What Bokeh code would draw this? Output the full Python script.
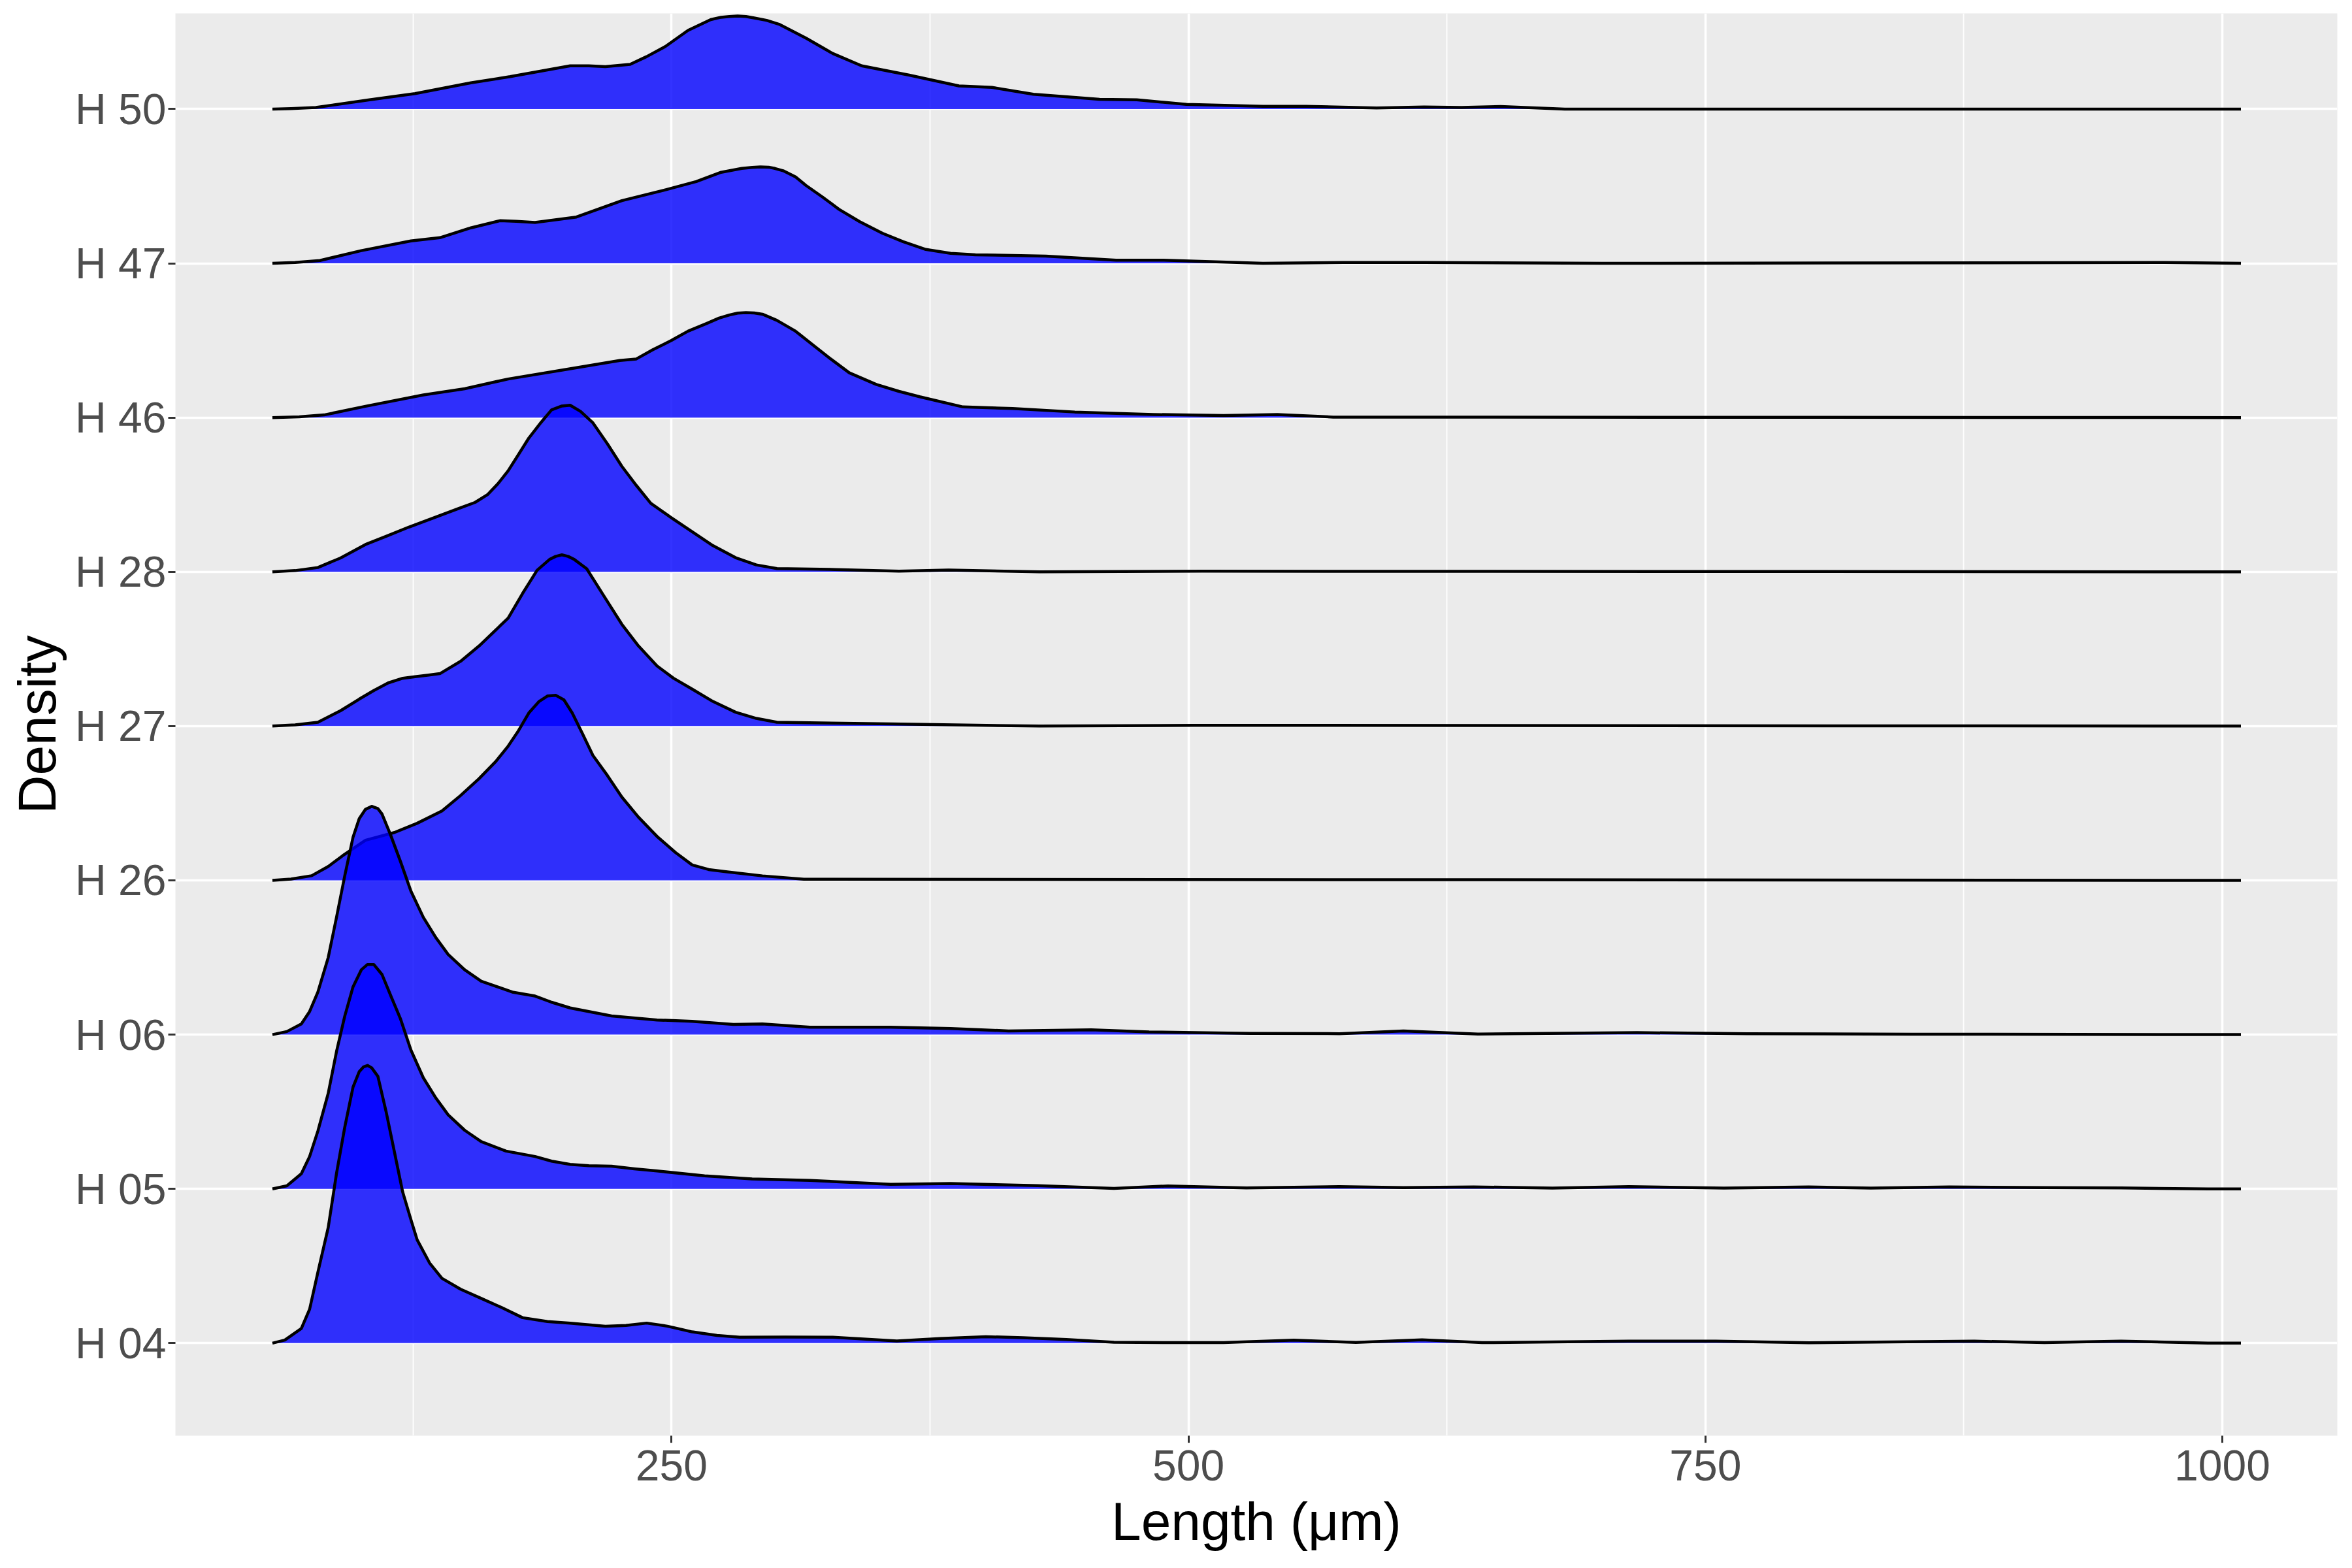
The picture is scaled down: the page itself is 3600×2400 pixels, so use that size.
from bokeh.plotting import figure
from bokeh.models import FixedTicker
from bokeh.embed import file_html
from bokeh.resources import INLINE

# rows of the ridgeline, bottom to top
categories = ["H 04", "H 05", "H 06", "H 26", "H 27", "H 28", "H 46", "H 47", "H 50"]
x_ticks = [250, 500, 750, 1000]
x_minor = [125, 375, 625, 875]

# density curves: length (um) and height (in row units)
x_h04 = [57, 63, 71, 75, 79, 84, 88, 92, 96, 99, 101, 103, 105, 108, 112, 116, 120, 124, 127, 133, 139,
         148, 158, 168, 178, 190, 201, 218, 228, 238, 248, 260, 272, 283, 305,
         328, 359, 380, 402, 420, 441, 464, 490, 517, 551, 581, 613, 642, 713, 755, 800, 880, 914, 951, 993, 1009]
d_h04 = [0, 0.02, 0.095, 0.22, 0.46, 0.75, 1.10, 1.40, 1.66, 1.76, 1.79, 1.80, 1.785, 1.73, 1.50, 1.24, 0.98, 0.80, 0.67, 0.52, 0.42,
         0.35, 0.29, 0.23, 0.165, 0.14, 0.13, 0.109, 0.115, 0.13, 0.11, 0.073, 0.05, 0.038, 0.04,
         0.038, 0.014, 0.03, 0.042, 0.035, 0.024, 0.006, 0.003, 0.003, 0.019, 0.005, 0.021, 0.003, 0.013, 0.013, 0.002, 0.013, 0.003, 0.013, 0, 0]

x_h05 = [57, 64, 71, 75, 79, 84, 88, 92, 96, 100, 103, 106, 110, 114, 119, 124, 130, 136, 142, 150, 158, 170, 184,
         192, 201, 210, 221, 232, 243, 266, 289, 317, 356, 385, 427, 464, 490, 528, 573, 604, 638, 676, 713, 759, 800,
         830, 868, 914, 951, 993, 1009]
d_h05 = [0, 0.02, 0.098, 0.21, 0.375, 0.62, 0.89, 1.12, 1.31, 1.42, 1.455, 1.455, 1.39, 1.26, 1.10, 0.90, 0.72, 0.59, 0.48, 0.38, 0.306, 0.245, 0.21,
         0.18, 0.159, 0.15, 0.147, 0.13, 0.116, 0.085, 0.064, 0.055, 0.029, 0.035, 0.021, 0.003, 0.019, 0.006, 0.015, 0.008, 0.013, 0.005, 0.015, 0.005, 0.013,
         0.005, 0.013, 0.008, 0.006, 0, 0]

x_h06 = [57, 64, 71, 75, 79, 84, 88, 92, 96, 99, 102, 105, 108, 110, 114, 119, 124, 130, 136, 142, 150, 158, 173, 184,
         192, 201, 221, 243, 260, 280, 294, 317, 356, 385, 413, 453, 481, 530, 573, 604, 640, 717, 770, 850, 1009]
d_h06 = [0, 0.02, 0.069, 0.15, 0.276, 0.50, 0.76, 1.03, 1.28, 1.40, 1.46, 1.48, 1.465, 1.43, 1.30, 1.12, 0.93, 0.76, 0.63, 0.52, 0.42, 0.346, 0.276, 0.25,
         0.21, 0.173, 0.121, 0.095, 0.086, 0.066, 0.069, 0.048, 0.048, 0.04, 0.024, 0.031, 0.017, 0.008, 0.006, 0.024, 0.004, 0.013, 0.006, 0.003, 0]

x_h26 = [57, 66, 76, 84, 91, 102, 116, 127, 139, 148, 157, 165, 171, 176, 181, 186, 190, 194, 198, 202, 207, 212,
         219, 226, 234, 243, 252, 260, 268, 277, 294, 314, 1009]
d_h26 = [0, 0.008, 0.03, 0.09, 0.16, 0.26, 0.31, 0.37, 0.45, 0.55, 0.66, 0.77, 0.87, 0.97, 1.085, 1.16, 1.195, 1.20, 1.17, 1.085, 0.95, 0.81,
         0.68, 0.54, 0.41, 0.285, 0.18, 0.10, 0.07, 0.055, 0.029, 0.007, 0]

x_h27 = [57, 68, 79, 90, 99, 106, 113, 120, 126, 132, 138, 148, 157, 164, 171, 178, 185, 191, 194, 197, 200, 203, 209, 217, 226, 234,
         243, 251, 260, 270, 281, 291, 301, 356, 428, 503, 1009]
d_h27 = [0, 0.008, 0.025, 0.10, 0.175, 0.23, 0.28, 0.31, 0.32, 0.33, 0.34, 0.42, 0.52, 0.61, 0.70, 0.86, 1.01, 1.08, 1.10, 1.11, 1.10, 1.08, 1.02, 0.85, 0.66, 0.52,
         0.39, 0.31, 0.24, 0.16, 0.09, 0.05, 0.025, 0.014, 0, 0.005, 0]

x_h28 = [57, 68, 79, 90, 102, 112, 123, 135, 147, 155, 161, 166, 171, 176, 181, 187, 192, 197, 201, 206, 212, 219, 226, 233,
         240, 250, 260, 270, 281, 291, 301, 329, 360, 384, 428, 507, 1009]
d_h28 = [0, 0.008, 0.028, 0.09, 0.177, 0.23, 0.29, 0.35, 0.41, 0.45, 0.50, 0.57, 0.655, 0.76, 0.867, 0.97, 1.05, 1.075, 1.08, 1.04, 0.966, 0.83, 0.684, 0.56,
         0.444, 0.35, 0.26, 0.17, 0.092, 0.045, 0.021, 0.015, 0.004, 0.012, 0, 0.004, 0]

x_h46 = [57, 70, 82, 102, 130, 150, 171, 198, 216, 225, 233, 241, 250, 258, 267, 273, 278, 282, 286, 290, 294, 301, 310, 318, 327, 336, 349,
         360, 370, 391, 415, 445, 483, 517, 543, 570, 1009]
d_h46 = [0, 0.005, 0.017, 0.073, 0.147, 0.187, 0.25, 0.31, 0.35, 0.37, 0.38, 0.44, 0.50, 0.56, 0.61, 0.645, 0.665, 0.677, 0.68, 0.678, 0.67, 0.63, 0.56, 0.475, 0.38, 0.29, 0.215,
         0.17, 0.135, 0.069, 0.059, 0.036, 0.02, 0.013, 0.02, 0.003, 0]

x_h47 = [57, 68, 80, 100, 124, 138, 153, 167, 175, 184, 204, 226, 247, 262, 274, 284, 289, 293, 297, 300, 304, 310, 315, 323,
         331, 341, 352, 362, 373, 385, 397, 431, 465, 488, 536, 575, 614, 700, 972, 1009]
d_h47 = [0, 0.005, 0.018, 0.082, 0.145, 0.166, 0.23, 0.276, 0.272, 0.265, 0.30, 0.406, 0.476, 0.53, 0.59, 0.615, 0.622, 0.625, 0.623, 0.615, 0.60, 0.56, 0.505, 0.43,
         0.35, 0.27, 0.195, 0.14, 0.09, 0.065, 0.055, 0.047, 0.02, 0.02, 0, 0.005, 0.005, 0, 0.005, 0]

x_h50 = [57, 66, 78, 104, 126, 153, 172, 201, 210, 218, 230, 238, 247, 258, 269, 274, 278, 282, 286, 290, 296, 302, 315, 328, 342, 365,
         389, 405, 425, 457, 475, 499, 536, 557, 591, 614, 632, 651, 682, 1009]
d_h50 = [0, 0.003, 0.01, 0.06, 0.10, 0.17, 0.21, 0.28, 0.28, 0.275, 0.29, 0.34, 0.405, 0.51, 0.58, 0.595, 0.60, 0.603, 0.60, 0.59, 0.575, 0.55, 0.46, 0.36, 0.28, 0.22,
         0.15, 0.14, 0.096, 0.063, 0.06, 0.03, 0.018, 0.018, 0.007, 0.013, 0.01, 0.016, 0, 0]

ridges = [(x_h04, d_h04), (x_h05, d_h05), (x_h06, d_h06), (x_h26, d_h26), (x_h27, d_h27),
          (x_h28, d_h28), (x_h46, d_h46), (x_h47, d_h47), (x_h50, d_h50)]

p = figure(frame_width=3309, frame_height=2177,
           x_range=(10.1, 1055.6), y_range=(-0.60, 8.62),
           output_backend="svg", toolbar_location=None,
           min_border_left=268, min_border_right=7, min_border_top=20, min_border_bottom=187)

p.background_fill_color = "#EBEBEB"
p.border_fill_color = "white"
p.outline_line_color = None

# top rows first, so lower ridges lie over them
for i in reversed(range(len(categories))):
    xs, ds = ridges[i]
    base = [i] * len(xs)
    top = [i + d for d in ds]
    p.varea(x=xs, y1=base, y2=top, fill_color="blue", fill_alpha=0.8)
    p.line(xs, top, line_color="black", line_width=4.5, line_join="round")

# grid
p.xaxis.ticker = FixedTicker(ticks=x_ticks, minor_ticks=x_minor)
p.yaxis.ticker = FixedTicker(ticks=list(range(len(categories))))
p.yaxis.major_label_overrides = {i: c for i, c in enumerate(categories)}
p.xgrid.grid_line_color = "white"
p.xgrid.grid_line_width = 3.5
p.xgrid.minor_grid_line_color = "white"
p.xgrid.minor_grid_line_width = 1.8
p.ygrid.grid_line_color = "white"
p.ygrid.grid_line_width = 3.5

# axes
for ax in (p.xaxis, p.yaxis):
    ax.axis_line_color = None
    ax.major_tick_line_color = "#333333"
    ax.major_tick_line_width = 3
    ax.major_tick_out = 11
    ax.major_tick_in = 0
    ax.minor_tick_line_color = None
    ax.major_label_text_font = "Liberation Sans"
    ax.major_label_text_font_size = "66px"
    ax.major_label_text_color = "#4D4D4D"
    ax.axis_label_text_font = "Liberation Sans"
    ax.axis_label_text_font_size = "82px"
    ax.axis_label_text_font_style = "normal"
    ax.axis_label_text_color = "black"

p.xaxis.axis_label = "Length (\u03bcm)"
p.yaxis.axis_label = "Density"
p.xaxis.major_label_standoff = 11
p.yaxis.major_label_standoff = 3
p.xaxis.axis_label_standoff = 14
p.yaxis.axis_label_standoff = 10

open("out.html", "w").write(file_html(p, INLINE))
